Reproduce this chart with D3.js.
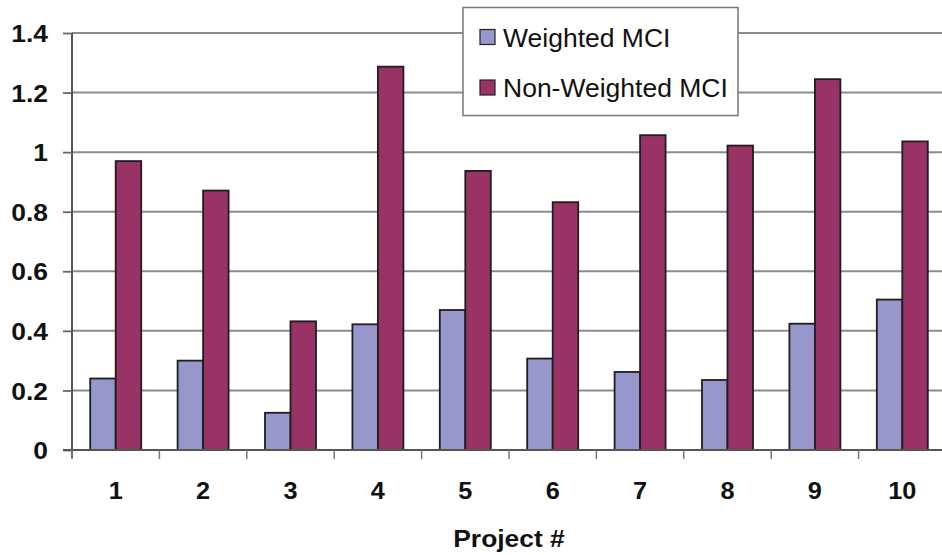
<!DOCTYPE html>
<html><head><meta charset="utf-8">
<script src="https://cdn.jsdelivr.net/npm/d3@7"></script>
<style>body{margin:0;background:#fff}svg{display:block}text{font-family:"Liberation Sans",Arial,sans-serif}</style>
</head><body><svg id="c" width="942" height="555"></svg>
<script>
const categories = ["1","2","3","4","5","6","7","8","9","10"];
const seriesNames = ["Weighted MCI","Non-Weighted MCI"];
const weighted = [0.24,0.30,0.125,0.422,0.47,0.307,0.262,0.235,0.424,0.505];
const nonWeighted = [0.97,0.871,0.432,1.287,0.937,0.832,1.057,1.022,1.245,1.036];
const yTicks = [0,0.2,0.4,0.6,0.8,1,1.2,1.4];
const colors = ["#9797cb","#993366"];

const svg = d3.select("#c");
const L=72, R=946, T=33, B=450;
const y = d3.scaleLinear().domain([0,1.4]).range([B,T]);
const x0 = d3.scaleBand().domain(categories).range([L,R]).padding(0);
const x1 = d3.scaleBand().domain(seriesNames).range([0,x0.bandwidth()]).paddingInner(0).paddingOuter(0.714);
const sx = 1.1;

// gridlines
svg.append("g").selectAll("line").data(yTicks.filter(d=>d>0)).join("line")
  .attr("x1",L).attr("x2",R).attr("y1",d=>y(d)).attr("y2",d=>y(d))
  .attr("stroke","#8c8c8c").attr("stroke-width",2);

// bars
const data = categories.map((c,i)=>({c, vals:[weighted[i],nonWeighted[i]]}));
const g = svg.append("g").selectAll("g").data(data).join("g").attr("transform",d=>`translate(${x0(d.c)},0)`);
g.selectAll("rect").data(d=>d.vals.map((v,j)=>({s:seriesNames[j],v,j}))).join("rect")
  .attr("x",d=>x1(d.s)).attr("width",x1.bandwidth())
  .attr("y",d=>y(d.v)).attr("height",d=>y(0)-y(d.v))
  .attr("fill",d=>colors[d.j]).attr("stroke","#1e1e1e").attr("stroke-width",1.8);

// y axis
const yAxis = d3.axisLeft(y).tickValues(yTicks).tickFormat(d=>d3.format("")(+d.toFixed(1))).tickSize(9).tickPadding(15);
const ya = svg.append("g").attr("transform",`translate(${L},0)`).call(yAxis);
ya.select(".domain").attr("stroke","#555").attr("stroke-width",2).attr("d",`M0,${T}V${B+8}`);
ya.selectAll(".tick line").attr("stroke","#666").attr("stroke-width",1.8);
ya.selectAll(".tick text").attr("font-size",24).attr("font-weight","bold").attr("fill","#111")
  .attr("transform",function(){const xx=+d3.select(this).attr("x");return `translate(${xx*(1-sx)},0) scale(${sx},1)`;})
  .attr("dy","0.36em");

// x axis
const xa = svg.append("g").attr("transform",`translate(0,${B})`);
xa.append("line").attr("x1",L-9).attr("x2",R).attr("y1",0).attr("y2",0).attr("stroke","#555").attr("stroke-width",2);
const boundaries = categories.map(c=>x0(c)).concat([x0(categories[categories.length-1])+x0.bandwidth()]);
xa.selectAll("line.tk").data(boundaries).join("line").attr("class","tk")
  .attr("x1",d=>d).attr("x2",d=>d).attr("y1",0).attr("y2",9).attr("stroke","#777").attr("stroke-width",1.5);
xa.selectAll("text").data(categories).join("text")
  .attr("transform",d=>`translate(${x0(d)+x0.bandwidth()/2},49) scale(${sx},1)`)
  .attr("text-anchor","middle").attr("font-size",23).attr("font-weight","bold").attr("fill","#111").text(d=>d);

// axis title
svg.append("text").attr("transform",`translate(509,547) scale(${sx},1)`).attr("text-anchor","middle")
  .attr("font-size",24).attr("font-weight","bold").attr("fill","#111").text("Project #");

// legend
const lg = svg.append("g");
lg.append("rect").attr("x",463).attr("y",7.5).attr("width",275).attr("height",108)
  .attr("fill","#fff").attr("stroke","#777").attr("stroke-width",1.5);
const rows = lg.selectAll("g").data(seriesNames).join("g").attr("transform",(d,i)=>`translate(480,${37+i*50.5})`);
rows.append("rect").attr("x",0).attr("y",-7.5).attr("width",15).attr("height",15)
  .attr("fill",(d,i)=>colors[i]).attr("stroke","#222").attr("stroke-width",1.2);
rows.append("text").attr("x",23).attr("dy","0.36em").attr("font-size",26.5).attr("fill","#111").text(d=>d);
</script></body></html>
